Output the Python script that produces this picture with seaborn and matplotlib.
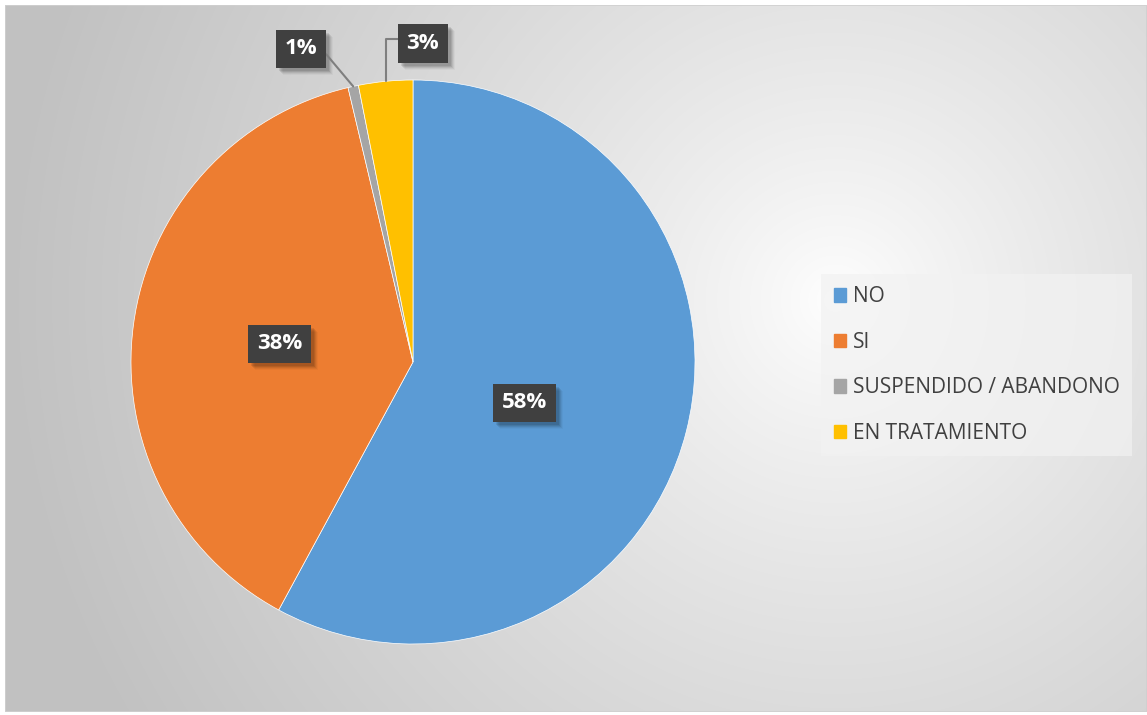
import numpy as np
import matplotlib
matplotlib.use("Agg")
import matplotlib.pyplot as plt
import matplotlib.patches as mpatches
from matplotlib.transforms import IdentityTransform
import seaborn as sns

# ---- data ----
categories = ["NO", "SI", "SUSPENDIDO / ABANDONO", "EN TRATAMIENTO"]
values = [57.9, 38.4, 0.6, 3.1]
colors = ["#5B9BD5", "#ED7D31", "#A5A5A5", "#FFC000"]

sns.set_theme(style="white")
plt.rcParams["font.family"] = ["Open Sans", "DejaVu Sans"]

W, H = 1147, 715
fig = plt.figure(figsize=(W / 100, H / 100), dpi=100)
fig.patch.set_facecolor("white")

# ---- background gradient ----
bg = fig.add_axes([5 / W, 3 / H, 1142 / W, 707 / H], zorder=0)
yy, xx = np.mgrid[0:707, 0:1142]
cx, cy = 830, 295
d = np.sqrt((xx - cx) ** 2 + (yy - cy) ** 2)
t = np.clip(d / 820, 0, 1)
val = 1.0 - 0.24 * t ** 0.8
rgb = np.dstack([val, val, val])
bg.imshow(rgb, aspect="auto", interpolation="bilinear")
bg.set_axis_off()
bg.add_patch(mpatches.Rectangle((0, 0), 1, 1, transform=bg.transAxes, fill=False,
                                ec="#d0d0d0", lw=1.2))

# ---- pie ----
cxp, cyp, R = 413, 362, 282
ax = fig.add_axes([(cxp - R) / W, (H - cyp - R) / H, 2 * R / W, 2 * R / H], zorder=2)
wedges, _ = ax.pie(values, colors=sns.color_palette(colors), startangle=90,
                   counterclock=False, wedgeprops=dict(linewidth=0.5, edgecolor="white"))
ax.set_xlim(-1, 1)
ax.set_ylim(-1, 1)
ax.set_axis_off()

FS = 16
BOX = "square,pad=0.4"
labels = []

# inside labels (label anchor positions, in pie-radius units)
inside_pos = {0: (0.397, -0.145), 1: (-0.472, 0.064)}
for i, (x, y) in inside_pos.items():
    s = f"{values[i]:.0f}%"
    labels.append(ax.text(x, y, s, ha="center", va="center", fontsize=FS,
                          fontweight="bold", color="white", zorder=5,
                          bbox=dict(boxstyle=BOX, fc="#404040", ec="none")))

# small slices: outside labels with leader lines
small = [(2, (-0.397, 1.11), (1.0, 0.75), "arc3"),
         (3, (0.035, 1.13), (0.0, 0.7), "angle,angleA=0,angleB=90,rad=0")]
for i, (tx, ty), rel, cs in small:
    w = wedges[i]
    mid = np.deg2rad((w.theta1 + w.theta2) / 2)
    ex, ey = np.cos(mid), np.sin(mid)
    s = f"{values[i]:.0f}%"
    labels.append(ax.annotate(s, xy=(ex, ey), xytext=(tx, ty), ha="center", va="center",
                              fontsize=FS, fontweight="bold", color="white", zorder=5,
                              annotation_clip=False,
                              bbox=dict(boxstyle=BOX, fc="#404040", ec="none"),
                              arrowprops=dict(arrowstyle="-", color="#7f7f7f", lw=1.5,
                                              relpos=rel, connectionstyle=cs,
                                              shrinkA=0, shrinkB=0)))

# ---- legend ----
handles = [mpatches.Patch(color=c) for c in colors]
leg = fig.legend(handles, categories, loc="center left",
                 bbox_to_anchor=(821 / W, (H - 365) / H), frameon=True,
                 fontsize=15, labelspacing=1.18, handlelength=0.62, handleheight=0.62,
                 handletextpad=0.3, borderpad=0.6, borderaxespad=0,
                 labelcolor="#404040")
leg.get_frame().set_facecolor("#f2f2f2")
leg.get_frame().set_alpha(0.7)
leg.get_frame().set_edgecolor("none")
leg.get_frame().set_boxstyle("square,pad=0")

# ---- soft shadows behind label boxes ----
fig.canvas.draw()
renderer = fig.canvas.get_renderer()
for t_ in labels:
    bb = t_.get_bbox_patch().get_window_extent(renderer)
    for off, a in [(3, 0.09), (4, 0.09), (5, 0.07), (6, 0.05), (7, 0.03)]:
        p = mpatches.Rectangle((bb.x0 + off, bb.y0 - off), bb.width, bb.height,
                               transform=IdentityTransform(), fc="black",
                               ec="none", alpha=a, zorder=4)
        ax.add_artist(p)
        p.set_transform(IdentityTransform())
        p.set_clip_on(False)

fig.savefig("out.png", dpi=100)
